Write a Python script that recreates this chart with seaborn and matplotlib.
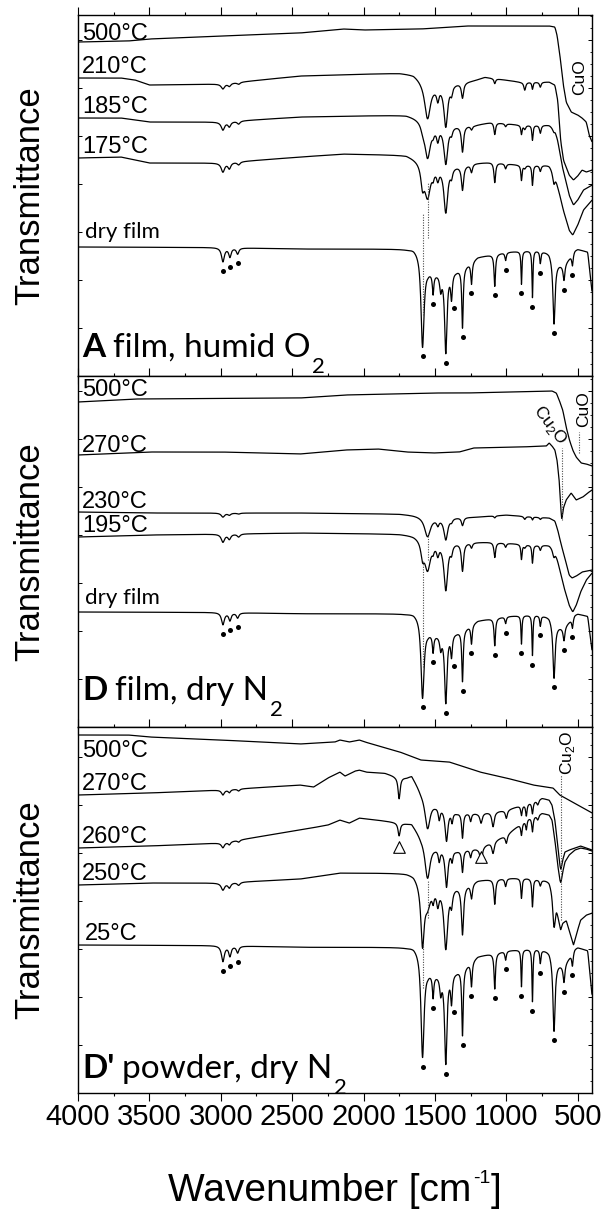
import numpy as np
import pandas as pd
import matplotlib
matplotlib.use("Agg")
import matplotlib.pyplot as plt
from matplotlib.ticker import MultipleLocator
import seaborn as sns

# ------------------------------------------------------------------
# Spectral data (wavenumber in cm^-1, stacked transmittance in a.u.)
# ------------------------------------------------------------------
# Bands of the as-prepared copper complex (dry film / 25 °C traces)
DRY_WN = [2985, 2936, 2882, 1587, 1513, 1460, 1424, 1384, 1307, 1244, 1081, 1005, 894, 817, 762, 666, 596, 537]
DRY_DEPTH = [14, 9, 6, 90, 20, 15, 80, 25, 60, 22, 32, 8, 33, 47, 12, 65, 15, 12]
DRY_HWHM = [12, 10, 10, 13, 6, 8, 10, 7, 6, 6, 6, 6, 4, 4, 5, 9, 7, 6]
# broad background absorption under the fingerprint region
DRY_BG_WN = [4000, 3000, 2446, 1700, 1650, 1610, 1550, 1500, 1450, 1350, 1280, 1230, 1200, 1000, 800, 700, 650, 600, 560, 520, 500, 430, 400]
DRY_BG_DROP = [0, 0.5, 2, 2, 1, 3, 21, 25, 25, 23, 18, 13, 10, 5, 3, 5, 15, 18, 11, 3, 2, 5, 45]
# bands marked with dots
DOT_WN = [2985, 2936, 2882, 1587, 1513, 1370, 1424, 1307, 1244, 1081, 1000, 894, 817, 762, 666, 596, 537]

# Bands of partially converted films
INT_WN = [2985, 2940, 2875, 1587, 1552, 1513, 1480, 1424, 1384, 1307, 1244, 1081, 1005, 894, 871, 817, 762, 666]
INT_HWHM = [14, 12, 12, 14, 25, 8, 10, 16, 9, 9, 8, 7, 7, 5, 8, 5, 7, 12]
A210_DEPTH = [5, 3, 2, 0, 37, 0, 12, 42, 8, 15, 0, 5, 0, 0, 8, 7, 5, 0]
A185_DEPTH = [8, 5, 3, 5, 36, 4, 12, 38, 6, 26, 4, 12, 3, 9, 4, 15, 8, 5]
A175_DEPTH = [9, 6, 3, 20, 33, 6, 10, 46, 8, 24, 8, 20, 5, 15, 3, 20, 6, 15]
D230_DEPTH = [4, 2, 1, 0, 20, 0, 6, 22, 3, 8, 0, 2, 0, 0, 3, 3, 2, 0]
D195_DEPTH = [8, 5, 3, 15, 30, 5, 10, 48, 8, 28, 5, 15, 4, 15, 3, 18, 5, 10]
P250_DEPTH = [7, 5, 3, 60, 20, 10, 15, 62, 15, 48, 15, 25, 8, 20, 0, 28, 6, 35]

# Bands of the powder heated to 260-270 °C
DEC_WN = [2985, 2940, 2875, 1751, 1552, 1470, 1419, 1380, 1307, 1250, 1177, 1093, 1000, 894, 860, 817, 780]
DEC_HWHM = [12, 10, 10, 9, 22, 8, 12, 7, 7, 7, 10, 10, 8, 6, 6, 6, 8]
P270_DEPTH = [5, 3, 2, 22, 32, 12, 32, 10, 25, 8, 10, 15, 8, 10, 12, 12, 5]
P260_DEPTH = [5, 3, 2, 13, 38, 12, 38, 10, 22, 8, 15, 12, 8, 12, 10, 15, 5]

# Baselines (anchor wavenumbers and levels) -------------------------
A500_WN = [4000, 3650, 3500, 3000, 2446, 2143, 2000, 1600, 1280, 700, 660, 645, 625, 604, 581, 546, 500, 470, 440, 420, 400]
A500_T = [334, 335, 337, 340, 343, 347, 346, 347, 350, 350, 349, 341, 321, 294, 274, 264, 261, 258, 254, 241, 234]
A210_WN = [4000, 3700, 3600, 3500, 3000, 2446, 1746, 1650, 1600, 1500, 1300, 1221, 1150, 1000, 900, 700, 660, 640, 620, 600, 560, 530, 500, 470, 440, 400]
A210_T = [298, 298, 296, 291, 292, 300, 303, 302, 298, 292, 294, 296, 299, 296, 294, 294, 291, 276, 236, 216, 201, 196, 200, 206, 204, 206]
A185_WN = [4000, 3700, 3500, 3000, 2446, 1700, 1600, 1500, 1300, 1221, 1100, 900, 700, 660, 640, 610, 560, 530, 500, 460, 400]
A185_T = [258, 258, 254, 254, 259, 261, 258, 252, 251, 251, 254, 251, 251, 248, 236, 211, 181, 171, 176, 186, 191]
A175_WN = [4000, 3700, 3500, 3000, 2446, 2143, 1700, 1600, 1500, 1300, 1221, 1100, 900, 700, 660, 640, 600, 560, 535, 500, 460, 400]
A175_T = [218, 219, 213, 213, 219, 222, 221, 216, 211, 211, 213, 214, 211, 211, 206, 191, 166, 146, 141, 151, 166, 176]

D500_WN = [4000, 3600, 2446, 2130, 1513, 1280, 700, 680, 650, 630, 605, 581, 558, 535, 511, 476, 440, 400]
D500_T = [325, 328, 329, 332, 334, 334, 336, 336, 334, 327, 317, 300, 287, 277, 270, 264, 263, 261]
D270_WN = [4000, 3500, 3000, 2446, 2130, 1900, 1700, 1513, 1330, 1230, 900, 720, 700, 680, 660, 645, 630, 620, 612, 600, 581, 546, 511, 464, 430, 400]
D270_T = [272, 275, 275, 273, 277, 278, 275, 274, 275, 279, 280, 281, 284, 281, 277, 267, 247, 222, 207, 219, 227, 234, 227, 230, 234, 237]
D230_WN = [4000, 3500, 2446, 1746, 1650, 1500, 1221, 1000, 800, 700, 660, 640, 615, 590, 560, 540, 510, 470, 400]
D230_T = [215, 214, 214, 213, 212, 210, 210, 212, 210, 209, 206, 197, 182, 169, 152, 149, 151, 155, 157]
D195_WN = [4000, 3500, 2446, 1746, 1650, 1500, 1300, 1100, 800, 700, 660, 640, 600, 560, 535, 510, 480, 440, 400]
D195_T = [190, 192, 194, 193, 192, 187, 185, 185, 182, 182, 179, 167, 142, 122, 115, 122, 135, 147, 154]

P500_WN = [4000, 3650, 3500, 3000, 2446, 2200, 2166, 2100, 2030, 1990, 1746, 1600, 1400, 1186, 1000, 813, 673, 626, 500, 400]
P500_T = [358, 358, 356, 353, 349, 351, 353, 351, 353, 351, 341, 333, 331, 321, 315, 308, 305, 298, 288, 280]
P270_WN = [4000, 3500, 3000, 2446, 2350, 2250, 2166, 2130, 2060, 2030, 1980, 1850, 1780, 1700, 1663, 1600, 1500, 1350, 1200, 1000, 850, 750, 700, 680, 660, 640, 625, 618, 605, 590, 560, 520, 480, 440, 400]
P270_T = [298, 300, 303, 308, 306, 315, 321, 317, 322, 323, 321, 320, 317, 316, 318, 303, 290, 281, 280, 283, 290, 295, 293, 288, 273, 248, 228, 223, 233, 241, 243, 245, 247, 245, 243]
P260_WN = [4000, 3500, 3000, 2446, 2250, 2166, 2100, 2030, 1900, 1780, 1700, 1663, 1600, 1500, 1350, 1200, 1000, 850, 750, 700, 680, 660, 640, 625, 618, 605, 590, 560, 520, 480, 440, 400]
P260_T = [245, 247, 250, 263, 268, 273, 270, 275, 273, 271, 270, 270, 258, 248, 243, 245, 258, 275, 280, 278, 273, 253, 228, 213, 210, 221, 231, 238, 243, 245, 244, 242]
P250_WN = [4000, 3500, 3000, 2446, 2166, 1700, 1650, 1600, 1500, 1300, 1200, 1000, 850, 700, 680, 650, 630, 620, 605, 580, 550, 530, 505, 480, 440, 400]
P250_T = [208, 210, 210, 214, 220, 220, 219, 213, 208, 208, 213, 215, 215, 213, 208, 193, 173, 165, 171, 173, 158, 148, 161, 173, 178, 180]

# Level and band scaling of the dry-film traces per panel
DRY_LEVEL = {"A": 129, "D": 115, "P": 148}
DRY_SCALE = {"A": 1.0, "D": 0.86, "P": 1.12}

# Curve labels: (text, baseline level)
A_LABELS = [("500°C", 336), ("210°C", 303), ("185°C", 263), ("175°C", 223)]
D_LABELS = [("500°C", 331), ("270°C", 275), ("230°C", 219), ("195°C", 195)]
P_LABELS = [("500°C", 336), ("270°C", 303), ("260°C", 250), ("250°C", 213)]
DRY_LABEL_T = {"A": 138, "D": 123, "P": 153}
DRY_LABEL_TEXT = {"A": "dry film", "D": "dry film", "P": "25°C"}

# Panel captions: bold tag, text, subscript
CAPTION_TAG = {"A": "A", "D": "D", "P": "D'"}
CAPTION_TEXT = {"A": "film, humid O", "D": "film, dry N", "P": "powder, dry N"}
CAPTION_SUB = "2"
CAPTION_T = {"A": 19, "D": 27, "P": 15}

# Axis title pieces
XLABEL_MAIN, XLABEL_SUP, XLABEL_END = "Wavenumber [cm", "-1", "]"

# Reference lines: (wavenumber, from, to)
A_GUIDES = [(1587, 163, 61), (1548, 194, 138)]
D_GUIDES = [(1548, 194, 167), (1587, 167, 60), (610, 279, 207), (493, 295, 274)]
P_GUIDES = [(619, 318, 173), (1552, 213, 175), (1587, 150, 105)]
TRI_WN = [1751, 1177]
TRI_T = [246, 236]

PANEL_H = {"A": 361, "D": 351, "P": 366}

# ------------------------------------------------------------------
wn = np.arange(4000.0, 399.0, -1.0)


def bands(centers, depths, widths):
    c = np.asarray(centers, float)[:, None]
    d = np.asarray(depths, float)[:, None]
    w = np.asarray(widths, float)[:, None]
    return (d / (1.0 + ((wn[None, :] - c) / w) ** 2)).sum(axis=0)


def smooth_base(anchor_wn, anchor_t, k=9):
    xp = np.asarray(anchor_wn, float)
    fp = np.asarray(anchor_t, float)
    o = np.argsort(xp)
    b = np.interp(wn, xp[o], fp[o])
    kern = np.ones(k) / k
    pad = np.pad(b, k // 2, mode="edge")
    return np.convolve(pad, kern, mode="valid")


def dry_trace(panel):
    drop = smooth_base(DRY_BG_WN, DRY_BG_DROP, 7)
    return DRY_LEVEL[panel] - DRY_SCALE[panel] * (drop + bands(DRY_WN, DRY_DEPTH, DRY_HWHM))


traces = {
    "A": [
        ("500", smooth_base(A500_WN, A500_T)),
        ("210", smooth_base(A210_WN, A210_T) - bands(INT_WN, A210_DEPTH, INT_HWHM)),
        ("185", smooth_base(A185_WN, A185_T) - bands(INT_WN, A185_DEPTH, INT_HWHM)),
        ("175", smooth_base(A175_WN, A175_T) - bands(INT_WN, A175_DEPTH, INT_HWHM)),
        ("dry", dry_trace("A")),
    ],
    "D": [
        ("500", smooth_base(D500_WN, D500_T)),
        ("270", smooth_base(D270_WN, D270_T, 5)),
        ("230", smooth_base(D230_WN, D230_T) - bands(INT_WN, D230_DEPTH, INT_HWHM)),
        ("195", smooth_base(D195_WN, D195_T) - bands(INT_WN, D195_DEPTH, INT_HWHM)),
        ("dry", dry_trace("D")),
    ],
    "P": [
        ("500", smooth_base(P500_WN, P500_T)),
        ("270", smooth_base(P270_WN, P270_T, 5) - bands(DEC_WN, P270_DEPTH, DEC_HWHM)),
        ("260", smooth_base(P260_WN, P260_T, 5) - bands(DEC_WN, P260_DEPTH, DEC_HWHM)),
        ("250", smooth_base(P250_WN, P250_T, 5) - bands(INT_WN, P250_DEPTH, INT_HWHM)),
        ("dry", dry_trace("P")),
    ],
}

# ------------------------------------------------------------------
sns.set_style("ticks")
plt.rcParams["font.family"] = ["Liberation Sans", "DejaVu Sans"]
plt.rcParams["mathtext.fontset"] = "custom"
plt.rcParams["mathtext.rm"] = "Liberation Sans"
plt.rcParams["mathtext.sf"] = "Liberation Sans"
for k in ("text.color", "axes.edgecolor", "axes.labelcolor", "xtick.color", "ytick.color"):
    plt.rcParams[k] = "black"

fig = plt.figure(figsize=(6.04, 12.11), dpi=100)
W, H = 604.0, 1211.0
left, right = 78, 592
boxes = {"A": (15, 376), "D": (376, 727), "P": (727, 1093)}
axes = {}
for key, (top, bot) in boxes.items():
    axes[key] = fig.add_axes([left / W, 1 - bot / H, (right - left) / W, (bot - top) / H])

curve_labels = {"A": A_LABELS, "D": D_LABELS, "P": P_LABELS}
guides = {"A": A_GUIDES, "D": D_GUIDES, "P": P_GUIDES}
renderer = fig.canvas.get_renderer()

for key, ax in axes.items():
    rows = []
    for name, t in traces[key]:
        rows.append(pd.DataFrame({"wn": wn, "T": t, "trace": name}))
    df = pd.concat(rows, ignore_index=True)
    sns.lineplot(data=df, x="wn", y="T", units="trace", estimator=None, sort=False,
                 color="black", lw=0.9, ax=ax)

    # marked bands of the dry material
    dry = traces[key][-1][1]
    dot_t = []
    for d in DOT_WN:
        m = (wn >= d - 12) & (wn <= d + 12)
        dot_t.append(dry[m].min() - 9)
    sns.scatterplot(x=DOT_WN, y=dot_t, color="black", s=13, linewidth=0, ax=ax, zorder=5)

    for g_wn, g0, g1 in guides[key]:
        ax.vlines(g_wn, g1, g0, colors="0.3", linestyles=(0, (1, 1.3)), lw=0.8)

    for text, lvl in curve_labels[key]:
        ax.text(3972, lvl, text, fontsize=17, va="baseline", ha="left")
    ax.text(3951, DRY_LABEL_T[key], DRY_LABEL_TEXT[key], fontsize=16 if key != "P" else 17,
            va="baseline", ha="left", family="Lato" if key != "P" else "Liberation Sans")

    ax.set_xlim(4000, 400)
    ax.set_ylim(0, PANEL_H[key])

    # caption: bold tag, plain text, lowered subscript
    tag = ax.annotate(CAPTION_TAG[key], xy=(3972, CAPTION_T[key]), xycoords="data",
                      fontsize=24, family="Lato", weight="bold", va="baseline", ha="left")
    w_tag = tag.get_window_extent(renderer).width * 72 / 100
    body = ax.annotate(CAPTION_TEXT[key], xy=(3972, CAPTION_T[key]), xycoords="data",
                       xytext=(w_tag + 5.5, 0), textcoords="offset points",
                       fontsize=24, family="Lato", va="baseline", ha="left")
    w_body = body.get_window_extent(renderer).width * 72 / 100
    ax.annotate(CAPTION_SUB, xy=(3972, CAPTION_T[key]), xycoords="data",
                xytext=(w_tag + 5.5 + w_body + 1.5, -11.5), textcoords="offset points",
                fontsize=16, family="Lato", va="baseline", ha="left")

    ax.xaxis.set_major_locator(MultipleLocator(500))
    ax.xaxis.set_minor_locator(MultipleLocator(250))
    ax.yaxis.set_major_locator(MultipleLocator(48))
    ax.yaxis.set_minor_locator(MultipleLocator(12))
    ax.tick_params(axis="x", which="major", direction="out", length=5.5, width=0.8,
                   top=True, bottom=True, labelbottom=(key == "P"), labelsize=21, pad=2)
    ax.tick_params(axis="x", which="minor", direction="out", length=2.5, width=0.8,
                   top=True, bottom=True)
    ax.tick_params(axis="y", which="major", direction="in", length=3, width=0.7,
                   left=True, right=True, labelleft=False)
    ax.tick_params(axis="y", which="minor", direction="in", length=1.8, width=0.6,
                   left=False, right=True)
    for s in ax.spines.values():
        s.set_linewidth(1.0)
        s.set_visible(True)
    ax.set_xlabel("")
    ax.set_ylabel("")

    yc = 1 - (boxes[key][0] + boxes[key][1]) / 2 / H
    fig.text(30 / W, yc, "Transmittance", rotation=90, ha="center", va="center", fontsize=25)

# oxide labels
axes["A"].text(484, 299, "CuO", rotation=90, ha="center", va="center", fontsize=12.5)
axes["D"].text(456, 318, "CuO", rotation=90, ha="center", va="center", fontsize=12.5)
axes["D"].text(694, 302, r"Cu$_\mathsf{2}$O", rotation=-53, ha="center", va="center", fontsize=12.5)
axes["P"].text(575, 340, r"Cu$_\mathsf{2}$O", rotation=90, ha="center", va="center", fontsize=12.5)

sns.scatterplot(x=TRI_WN, y=TRI_T, marker="^", s=70, color="white", edgecolor="black",
                linewidth=0.8, ax=axes["P"], zorder=6)

# axis title with a raised exponent, centred under the panels, sitting on the lower edge
t_main = fig.text(0, 2 / H, XLABEL_MAIN, fontsize=28, va="bottom", ha="left")
t_end = fig.text(0, 2 / H, XLABEL_END, fontsize=28, va="bottom", ha="left")
bb_main = t_main.get_window_extent(renderer)
t_sup = fig.text(0, (bb_main.y0 + 0.62 * bb_main.height) / H, XLABEL_SUP, fontsize=14,
                 va="bottom", ha="left")
w_main = bb_main.width
w_sup = t_sup.get_window_extent(renderer).width
w_end = t_end.get_window_extent(renderer).width
x0 = 335.0 - (w_main + 1 + w_sup + 1 + w_end) / 2
t_main.set_x(x0 / W)
t_sup.set_x((x0 + w_main + 1) / W)
t_end.set_x((x0 + w_main + 1 + w_sup + 1) / W)

fig.savefig("out.png", dpi=100)
